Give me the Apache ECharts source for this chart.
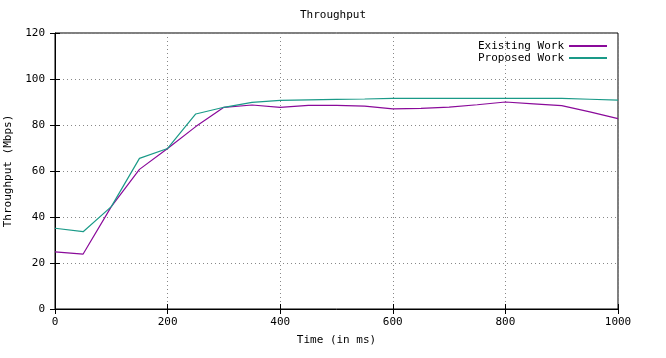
<!DOCTYPE html>
<html>
<head>
<meta charset="utf-8">
<script src="https://cdn.jsdelivr.net/npm/echarts@6/dist/echarts.min.js"></script>
<style>html,body{margin:0;padding:0;background:#fff;}#c{width:666px;height:358px;}</style>
</head>
<body>
<div id="c"></div>
<script>
const times = [0,50,100,150,200,250,300,350,400,450,500,550,600,650,700,750,800,850,900,950,1000];
const existingWork = [24.8,23.9,44.5,60.7,69.8,79.3,87.7,88.7,87.7,88.5,88.5,88.2,87.0,87.2,87.8,88.8,90.0,89.2,88.4,85.7,82.8];
const proposedWork = [35.1,33.6,44.5,65.5,69.8,84.8,87.7,89.8,90.7,90.9,91.1,91.3,91.6,91.6,91.6,91.6,91.6,91.6,91.6,91.2,90.8];
const xTicks = [0,200,400,600,800,1000];
const yTicks = [0,20,40,60,80,100,120];

const FONT = 'DejaVu Sans Mono';
const txt = {fontFamily: FONT, fontSize: 11, color: '#000'};
const grid = {type: [1,3], color: '#888', width: 1};

const chart = echarts.init(document.getElementById('c'), null, {renderer: 'canvas'});
chart.setOption({
  animation: false,
  backgroundColor: '#fff',
  title: {text: 'Throughput', left: 'center', top: 5, textStyle: {fontFamily: FONT, fontSize: 11, fontWeight: 'normal', color: '#000'}},
  grid: {left: 55, right: 48, top: 33, bottom: 49, outerBoundsMode: 'none', containLabel: false,
    show: true, borderColor: '#000', borderWidth: 1, backgroundColor: 'transparent'},
  legend: {
    orient: 'vertical', right: 54, top: 35, align: 'right', itemGap: 0,
    itemWidth: 38, itemHeight: 2, icon: 'rect',
    textStyle: {fontFamily: FONT, fontSize: 11, color: '#000', lineHeight: 12, padding: [0, 0, 0, 0]},
    data: ['Existing Work', 'Proposed Work']
  },
  xAxis: [{
    type: 'value', min: 0, max: 1000, interval: 200,
    name: 'Time (in ms)', nameLocation: 'middle', nameGap: 26, nameTextStyle: txt,
    axisLine: {show: true, lineStyle: {color: '#000'}},
    axisTick: {show: true, inside: true, length: 5, lineStyle: {color: '#000'}},
    axisLabel: Object.assign({margin: 8, formatter: v => xTicks.includes(v) ? String(v) : ''}, txt),
    splitLine: {show: true, lineStyle: grid}
  }, {
    type: 'value', min: 0, max: 1000, interval: 200, position: 'top',
    axisLine: {show: false}, axisLabel: {show: false}, splitLine: {show: false},
    axisTick: {show: true, inside: true, length: 5, lineStyle: {color: '#000'}}
  }],
  yAxis: [{
    type: 'value', min: 0, max: 120, interval: 20,
    name: 'Throughput (Mbps)', nameLocation: 'middle', nameGap: 41, nameRotate: 90, nameTextStyle: txt,
    axisLine: {show: true, lineStyle: {color: '#000'}},
    axisTick: {show: true, inside: true, length: 5, lineStyle: {color: '#000'}},
    axisLabel: Object.assign({margin: 10, formatter: v => yTicks.includes(v) ? String(v) : ''}, txt),
    splitLine: {show: true, lineStyle: grid}
  }, {
    type: 'value', min: 0, max: 120, interval: 20, position: 'right',
    axisLine: {show: false}, axisLabel: {show: false}, splitLine: {show: false},
    axisTick: {show: true, inside: true, length: 5, lineStyle: {color: '#000'}}
  }],
  series: [{
    name: 'Existing Work', type: 'line', symbol: 'none', color: '#8a0a9a',
    lineStyle: {width: 1.2, color: '#8a0a9a'},
    data: times.map((t, i) => [t, existingWork[i]])
  }, {
    name: 'Proposed Work', type: 'line', symbol: 'none', color: '#1a9a88',
    lineStyle: {width: 1.2, color: '#1a9a88'},
    data: times.map((t, i) => [t, proposedWork[i]])
  }]
});
</script>
</body>
</html>
